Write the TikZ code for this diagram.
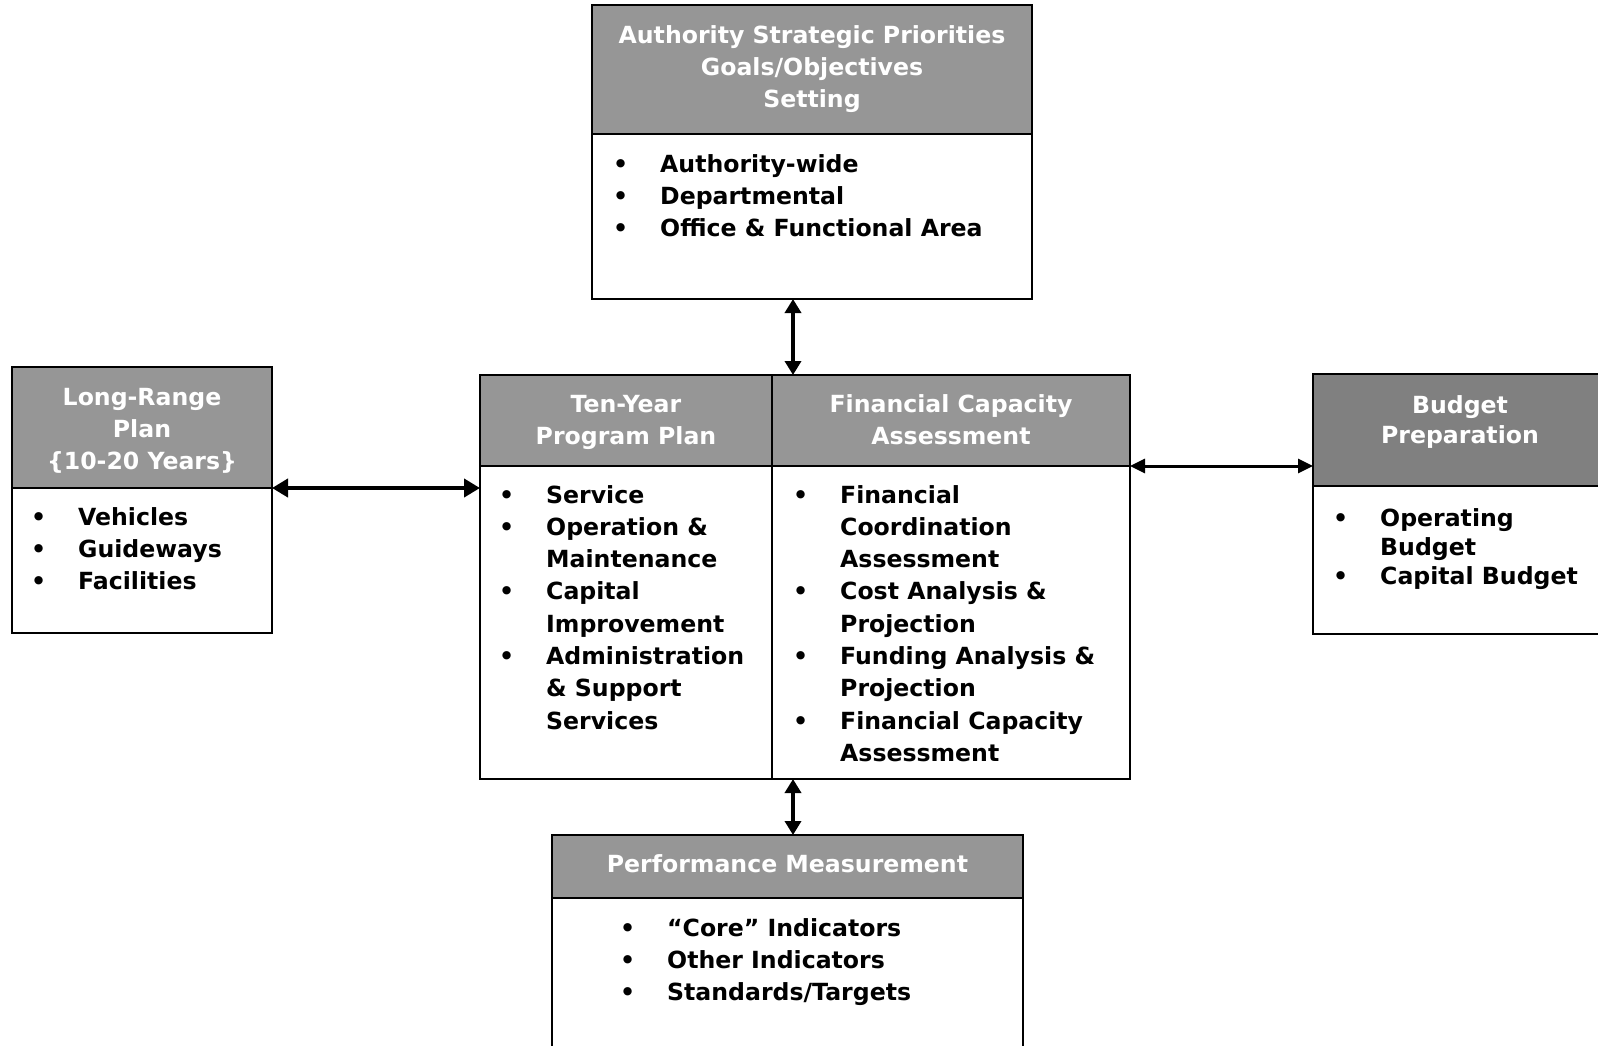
\documentclass[tikz,border=0pt]{standalone}
\usepackage{fontspec}
\setmainfont{DejaVu Sans}
\usetikzlibrary{arrows.meta}
\definecolor{hdrgray}{RGB}{150,150,150}
\definecolor{hdrdark}{RGB}{128,128,128}
\begin{document}
\begin{tikzpicture}[x=1pt,y=-1pt,
  boxbase/.style={draw=black, line width=2pt, rectangle, inner sep=0pt, outer sep=0pt, anchor=north west},
  hdr/.style={boxbase, fill=hdrgray},
  hdrd/.style={boxbase, fill=hdrdark},
  bdy/.style={boxbase, fill=white},
  htxt/.style={anchor=base, inner sep=0pt, text=white, font=\fontsize{23.6}{32.3}\selectfont\bfseries},
  htxtb/.style={htxt, font=\fontsize{23.6}{30}\selectfont\bfseries},
  ltxt/.style={anchor=base west, inner sep=0pt, text=black, font=\fontsize{23.6}{32.3}\selectfont\bfseries},
  ltxtb/.style={ltxt, font=\fontsize{23.6}{29.2}\selectfont\bfseries},
  arrv/.style={{Triangle[length=14pt,width=16pt]}-{Triangle[length=14pt,width=16pt]}, line width=3.5pt},
  arrl/.style={{Triangle[length=16pt,width=18pt]}-{Triangle[length=16pt,width=18pt]}, line width=4.5pt},
  arrr/.style={{Triangle[length=15pt,width=14pt]}-{Triangle[length=15pt,width=14pt]}, line width=3pt}
]
\useasboundingbox (0,0) rectangle (1598,1045);
\fill[white] (0,0) rectangle (1598,1045);
\clip (0,0) rectangle (1598,1045);

% Top box
\node[hdr, minimum width=440pt, minimum height=129pt] (tophead) at (592,5) {};
\node[bdy, minimum width=440pt, minimum height=165pt] (topbody) at (592,134) {};
\node[htxt] (toptitle) at (812,43) {\begin{tabular}[t]{@{}c@{}}Authority Strategic Priorities\\Goals/Objectives\\Setting\end{tabular}};
\node[ltxt] (toplist) at (613,172) {\begin{tabular}[t]{@{}p{47pt}@{}l@{}}•&Authority-wide\\•&Departmental\\•&Office \& Functional Area\end{tabular}};

% Long-range box
\node[hdr, minimum width=260pt, minimum height=121pt] (lrhead) at (12,367) {};
\node[bdy, minimum width=260pt, minimum height=145pt] (lrbody) at (12,488) {};
\node[htxt] (lrtitle) at (142,405) {\begin{tabular}[t]{@{}c@{}}Long-Range\\Plan\\\{10-20 Years\}\end{tabular}};
\node[ltxt] (lrlist) at (31,525) {\begin{tabular}[t]{@{}p{47pt}@{}l@{}}•&Vehicles\\•&Guideways\\•&Facilities\end{tabular}};

% Ten-year program plan
\node[hdr, minimum width=292pt, minimum height=91pt] (tyhead) at (480,375) {};
\node[bdy, minimum width=292pt, minimum height=313pt] (tybody) at (480,466) {};
\node[htxt] (tytitle) at (626,412) {\begin{tabular}[t]{@{}c@{}}Ten-Year\\Program Plan\end{tabular}};
\node[ltxt] (tylist) at (499,503) {\begin{tabular}[t]{@{}p{47pt}@{}l@{}}•&Service\\•&Operation \&\\&Maintenance\\•&Capital\\&Improvement\\•&Administration\\&\& Support\\&Services\end{tabular}};

% Financial capacity assessment
\node[hdr, minimum width=358pt, minimum height=91pt] (fchead) at (772,375) {};
\node[bdy, minimum width=358pt, minimum height=313pt] (fcbody) at (772,466) {};
\node[htxt] (fctitle) at (951,412) {\begin{tabular}[t]{@{}c@{}}Financial Capacity\\Assessment\end{tabular}};
\node[ltxt] (fclist) at (793,503) {\begin{tabular}[t]{@{}p{47pt}@{}l@{}}•&Financial\\&Coordination\\&Assessment\\•&Cost Analysis \&\\&Projection\\•&Funding Analysis \&\\&Projection\\•&Financial Capacity\\&Assessment\end{tabular}};

% Budget preparation
\node[hdrd, minimum width=294pt, minimum height=112pt] (bphead) at (1313,374) {};
\node[bdy, minimum width=294pt, minimum height=148pt] (bpbody) at (1313,486) {};
\node[htxtb] (bptitle) at (1460,413) {\begin{tabular}[t]{@{}c@{}}Budget\\Preparation\end{tabular}};
\node[ltxtb] (bplist) at (1333,526) {\begin{tabular}[t]{@{}p{47pt}@{}l@{}}•&Operating\\&Budget\\•&Capital Budget\end{tabular}};

% Performance measurement
\node[hdr, minimum width=471pt, minimum height=63pt] (pmhead) at (552,835) {};
\node[bdy, minimum width=471pt, minimum height=170pt] (pmbody) at (552,898) {};
\node[htxt] (pmtitle) at (787.5,872) {\begin{tabular}[t]{@{}c@{}}Performance Measurement\end{tabular}};
\node[ltxt] (pmlist) at (620,936) {\begin{tabular}[t]{@{}p{47pt}@{}l@{}}•&“Core” Indicators\\•&Other Indicators\\•&Standards/Targets\end{tabular}};

% Connectors
\coordinate (vx) at (793,0);
\draw[arrv] (vx |- topbody.south) -- (vx |- tyhead.north);
\draw[arrv] (vx |- tybody.south) -- (vx |- pmhead.north);
\draw[arrl] (lrhead.south east) -- (lrhead.south east -| tyhead.west);
\draw[arrr] (fchead.south east) -- (fchead.south east -| bphead.west);
\end{tikzpicture}
\end{document}
